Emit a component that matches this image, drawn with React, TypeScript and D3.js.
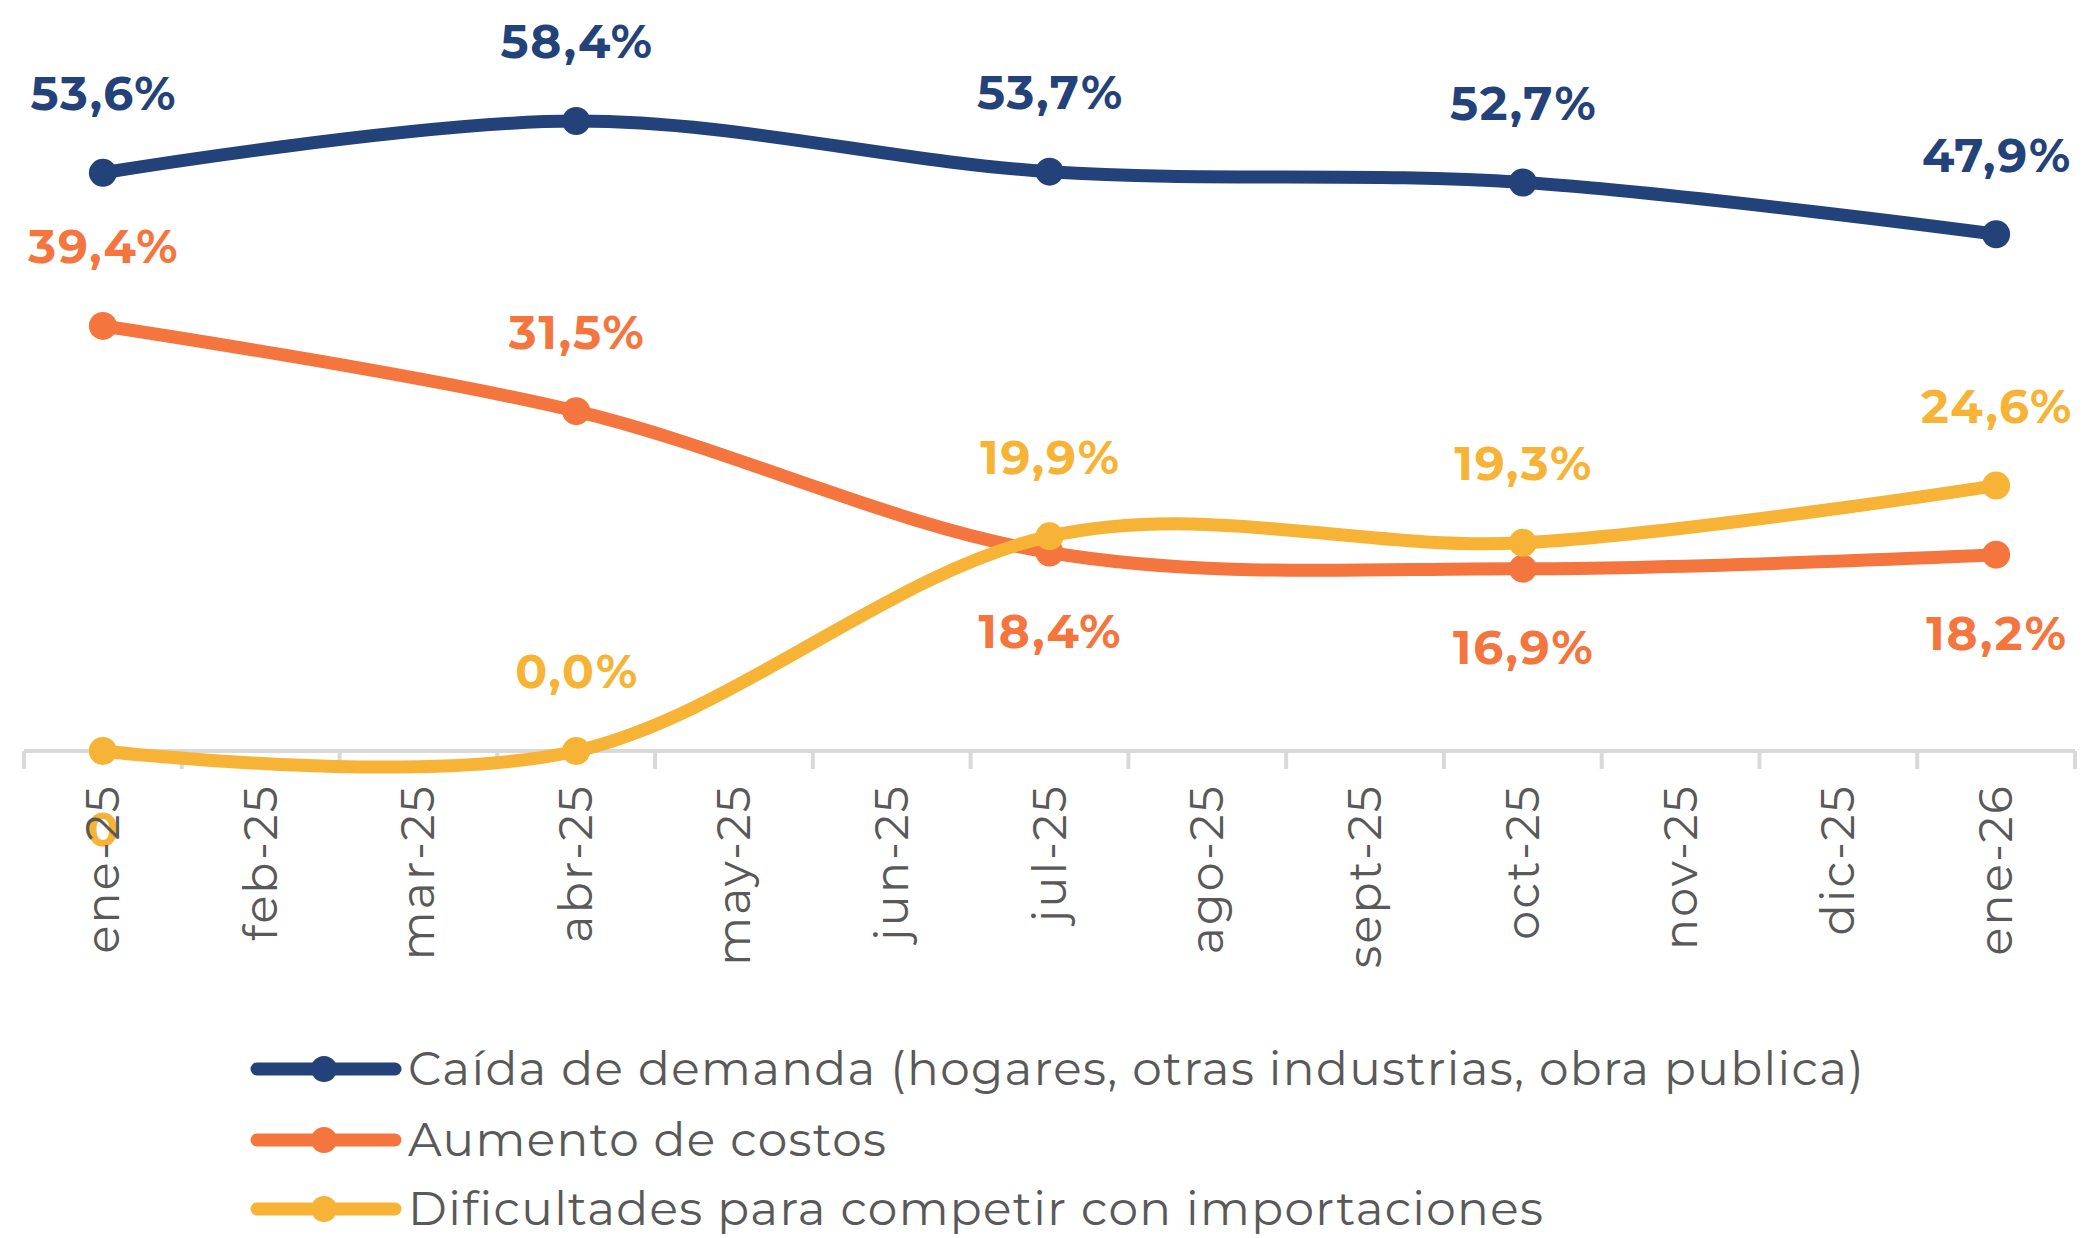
import React, { useEffect, useRef } from "react";
import * as d3 from "d3";

const months = [
  "ene-25", "feb-25", "mar-25", "abr-25", "may-25", "jun-25", "jul-25",
  "ago-25", "sept-25", "oct-25", "nov-25", "dic-25", "ene-26",
];
const pointMonths = ["ene-25", "abr-25", "jul-25", "oct-25", "ene-26"];

const demanda = [53.6, 58.4, 53.7, 52.7, 47.9];
const costos = [39.4, 31.5, 18.4, 16.9, 18.2];
const importaciones = [0.0, 0.0, 19.9, 19.3, 24.6];

const demandaLabels = ["53,6%", "58,4%", "53,7%", "52,7%", "47,9%"];
const costosLabels = ["39,4%", "31,5%", "18,4%", "16,9%", "18,2%"];
const importacionesLabels = ["0", "0,0%", "19,9%", "19,3%", "24,6%"];

// label above (-1) or below (+1) the marker
const demandaSide = [-1, -1, -1, -1, -1];
const costosSide = [-1, -1, 1, 1, 1];
const importacionesSide = [1, -1, -1, -1, -1];

const seriesNames = [
  "Caída de demanda (hogares, otras industrias, obra publica)",
  "Aumento de costos",
  "Dificultades para competir con importaciones",
];

const App = () => {
  const ref = useRef(null);

  useEffect(() => {
    document.body.style.margin = "0";
    d3.select(ref.current).select("svg").remove();

    const width = 2084, height = 1238;
    const font = "Montserrat, 'Open Sans', sans-serif";

    const svg = d3
      .select(ref.current)
      .append("svg")
      .attr("width", width)
      .attr("height", height)
      .style("display", "block")
      .style("background", "#ffffff");

    const x = d3.scaleBand().domain(months).range([24, 2075]);
    const cx = (m) => x(m) + x.bandwidth() / 2;
    const y = d3.scaleLinear().domain([0, 58.4]).range([751, 121]);

    // yellow "0" label sits behind the tick labels
    const labelLayer = svg.append("g");

    // axis
    const axisG = svg.append("g");
    axisG
      .append("line")
      .attr("x1", x.range()[0])
      .attr("x2", x.range()[1])
      .attr("y1", y(0))
      .attr("y2", y(0))
      .attr("stroke", "#D9D9D9")
      .attr("stroke-width", 4);
    const bounds = months.map((m) => x(m)).concat([x.range()[1]]);
    axisG
      .selectAll("line.tick")
      .data(bounds)
      .enter()
      .append("line")
      .attr("class", "tick")
      .attr("x1", (d) => d)
      .attr("x2", (d) => d)
      .attr("y1", y(0))
      .attr("y2", y(0) + 18)
      .attr("stroke", "#D9D9D9")
      .attr("stroke-width", 4);

    axisG
      .selectAll("text.month")
      .data(months)
      .enter()
      .append("text")
      .attr("class", "month")
      .attr("transform", (d) => "translate(" + (cx(d) + 16) + "," + (y(0) + 33) + ") rotate(-90)")
      .attr("text-anchor", "end")
      .style("font-family", font)
      .style("font-size", "46px")
      .style("letter-spacing", "2.2px")
      .style("fill", "#595959")
      .text((d) => d);

    const series = [
      { values: demanda, labels: demandaLabels, side: demandaSide, color: "#23427A" },
      { values: costos, labels: costosLabels, side: costosSide, color: "#F4753D" },
      { values: importaciones, labels: importacionesLabels, side: importacionesSide, color: "#F6B335" },
    ];

    const line = d3
      .line()
      .x((d, i) => cx(pointMonths[i]))
      .y((d) => y(d))
      .curve(d3.curveCatmullRom.alpha(0));

    series.forEach((s) => {
      const g = svg.append("g");
      g.append("path")
        .datum(s.values)
        .attr("fill", "none")
        .attr("stroke", s.color)
        .attr("stroke-width", 13)
        .attr("stroke-linecap", "round")
        .attr("d", line);
      g.selectAll("circle")
        .data(s.values)
        .enter()
        .append("circle")
        .attr("cx", (d, i) => cx(pointMonths[i]))
        .attr("cy", (d) => y(d))
        .attr("r", 14)
        .attr("fill", s.color);
    });

    series.forEach((s) => {
      s.values.forEach((v, i) => {
        const target = s.labels[i] === "0" ? labelLayer : svg;
        target
          .append("text")
          .attr("x", cx(pointMonths[i]) + 1)
          .attr("y", y(v) + s.side[i] * 79)
          .attr("dy", "0.35em")
          .attr("text-anchor", "middle")
          .style("font-family", font)
          .style("font-size", "47px")
          .style("font-weight", "bold")
          .style("letter-spacing", "1.9px")
          .style("fill", s.color)
          .text(s.labels[i]);
      });
    });

    // legend
    const legend = svg.append("g");
    const legendY = [1069, 1140, 1209];
    series.forEach((s, i) => {
      const row = legend.append("g").attr("transform", "translate(0," + legendY[i] + ")");
      row.append("line")
        .attr("x1", 257)
        .attr("x2", 395)
        .attr("y1", 0)
        .attr("y2", 0)
        .attr("stroke", s.color)
        .attr("stroke-width", 13)
        .attr("stroke-linecap", "round");
      row.append("circle").attr("cx", 324).attr("cy", 0).attr("r", 13).attr("fill", s.color);
      row.append("text")
        .attr("x", 408)
        .attr("y", 0)
        .attr("dy", "0.35em")
        .style("font-family", font)
        .style("font-size", "47px")
        .style("letter-spacing", "1.35px")
        .style("fill", "#595959")
        .text(seriesNames[i]);
    });
  }, []);

  return <div ref={ref} />;
};

export default App;
